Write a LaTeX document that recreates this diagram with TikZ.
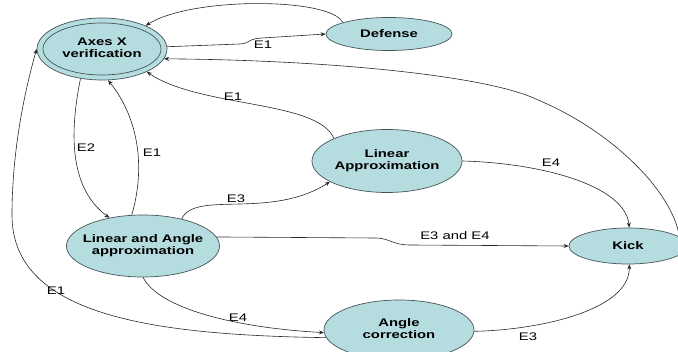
\documentclass[tikz,border=0pt]{standalone}
\usepackage{fontspec}
\setmainfont{Liberation Sans}[FakeStretch=1.35]
\usetikzlibrary{arrows.meta,shapes.geometric}
\definecolor{nfill}{RGB}{181,221,224}
\definecolor{nline}{RGB}{70,85,90}
\definecolor{eline}{RGB}{40,40,40}
\newcommand\twoline[2]{\makebox[0pt]{\begin{tabular}{@{}c@{}}#1\\#2\end{tabular}}}
\begin{document}
\begin{tikzpicture}[x=1pt,y=-1pt,
  st/.style={ellipse, draw=nline, line width=0.7pt, fill=nfill, inner sep=0pt, font=\fontsize{11}{12}\selectfont\bfseries},
  arr/.style={draw=eline, line width=0.6pt, -{Stealth[length=5pt,width=4pt]}},
  lb/.style={font=\fontsize{11}{12}\selectfont, inner sep=0pt}]
\path[use as bounding box] (0,0) rectangle (678,352);
\clip (0,0) rectangle (678,352);
\fill[white] (0,0) rectangle (678,352);

\node[st, minimum width=130pt, minimum height=62pt] (ax) at (102,49) {\twoline{Axes X}{verification}};
\draw[nline, line width=0.7pt] (ax.center) ellipse [x radius=59pt, y radius=26pt];
\node[st, minimum width=126pt, minimum height=33pt] (def) at (389,34) {Defense};
\node[st, minimum width=150pt, minimum height=63pt] (la) at (387,161) {\twoline{Linear}{Approximation}};
\node[st, minimum width=153pt, minimum height=62pt] (laa) at (143,246) {\twoline{Linear and Angle}{approximation}};
\node[st, minimum width=118pt, minimum height=36pt] (kick) at (628,246) {Kick};
\node[st, minimum width=150pt, minimum height=60pt] (ac) at (399,330) {\twoline{Angle}{correction}};

\draw[arr] (def.166) .. controls (330,-3) and (190,-3) .. (ax.28);
\draw[arr] (ax.2) -- (240,44) .. controls (250,43.5) and (248,38.5) .. (262,38) -- (def.west);
\draw[arr] (kick.10) .. controls (672,190) and (610,130) .. (538,100) .. controls (490,76) and (330,60) .. (ax.-9);
\draw[arr] (la.157) .. controls (318,100) and (200,108) .. (ax.-27);
\draw[arr] (ax.-126) .. controls (68,140) and (72,190) .. (laa.140);
\draw[arr] (laa.110) .. controls (145,170) and (140,120) .. (ax.-79);
\draw[arr] (laa.35) .. controls (195,190) and (270,220) .. (la.200);
\draw[arr] (laa.7) -- (375,238) .. controls (390,238) and (392,245) .. (410,245) -- (kick.west);
\draw[arr] (laa.south) .. controls (160,310) and (240,328) .. (ac.182);
\draw[arr] (ac.186) .. controls (150,335) and (12,315) .. (12,215) .. controls (12,150) and (25,90) .. (ax.west);
\draw[arr] (la.east) .. controls (540,163) and (625,185) .. (kick.86);
\draw[arr] (ac.-1) .. controls (540,330) and (630,310) .. (kick.-86);

\node[lb] (e1a) at (263,45) {E1};
\node[lb] (e1b) at (233,97) {E1};
\node[lb] (e2) at (86,148) {E2};
\node[lb] (e1c) at (152,153) {E1};
\node[lb] (e3a) at (236,199) {E3};
\node[lb] (e34) at (455,236) {E3 and E4};
\node[lb] (e4a) at (551,163) {E4};
\node[lb] (e4b) at (238,318) {E4};
\node[lb] (e1d) at (56,291) {E1};
\node[lb] (e3b) at (528,337) {E3};
\end{tikzpicture}
\end{document}
